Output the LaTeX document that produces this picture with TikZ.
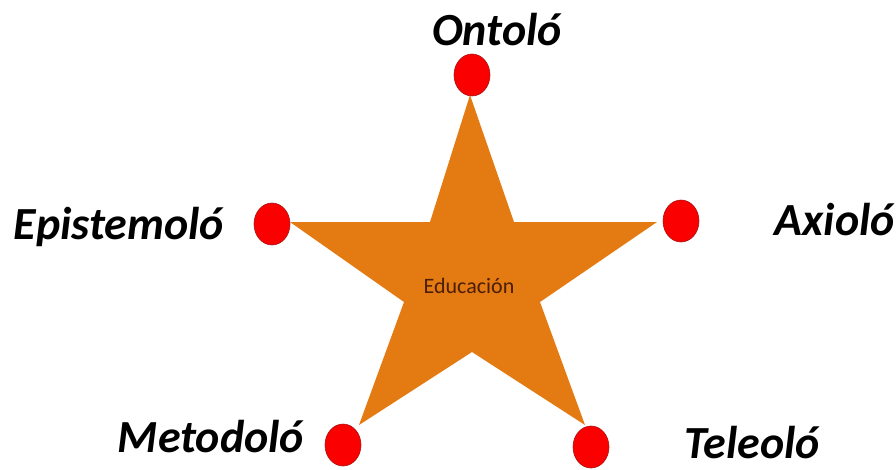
\documentclass[tikz,border=0pt]{standalone}
\usepackage{fontspec}
\setmainfont{Carlito}
\usetikzlibrary{shapes.geometric}
\definecolor{starorange}{RGB}{228,122,18}
\definecolor{dotred}{RGB}{250,0,0}
\definecolor{dotedge}{RGB}{170,20,20}
\definecolor{edutext}{RGB}{75,30,5}
\tikzset{
  dot/.style={ellipse, fill=dotred, draw=dotedge, line width=0.6pt, minimum width=36pt, minimum height=42pt, inner sep=0pt},
  lbl/.style={font=\fontsize{46}{48}\selectfont\bfseries\itshape, text=black, inner sep=0pt, anchor=base}
}
\begin{document}
\begin{tikzpicture}[x=1pt,y=-1pt]
\useasboundingbox (0,0) rectangle (896,469);
% star
\coordinate (tT) at (470,95);
\coordinate (tL) at (290,222);
\coordinate (tR) at (657,222);
\coordinate (tBL) at (359,425);
\coordinate (tBR) at (585,425);
\coordinate (iUL) at (430,222);
\coordinate (iUR) at (514,222);
\coordinate (iLL) at (404,302);
\coordinate (iLR) at (540,302);
\coordinate (iB) at (472,352);
\fill[starorange] (tT) -- (iUR) -- (tR) -- (iLR) -- (tBR) -- (iB) -- (tBL) -- (iLL) -- (tL) -- (iUL) -- cycle;
\node[font=\fontsize{22}{24}\selectfont, text=edutext, anchor=base, inner sep=0pt] (edu) at (469,293) {Educación};
% dots
\node[dot] (dT) at (472,75) {};
\node[dot] (dL) at (272,224) {};
\node[dot] (dR) at (681,221) {};
\node[dot] (dBL) at (343,445) {};
\node[dot] (dBR) at (591,447) {};
% labels
\node[lbl] (lO) at (497,45) {Ontoló};
\node[lbl] (lE) at (119,239) {Epistemoló};
\node[lbl] (lA) at (835,235) {Axioló};
\node[lbl] (lM) at (211,452) {Metodoló};
\node[lbl] (lT) at (752,458) {Teleoló};
\end{tikzpicture}
\end{document}
